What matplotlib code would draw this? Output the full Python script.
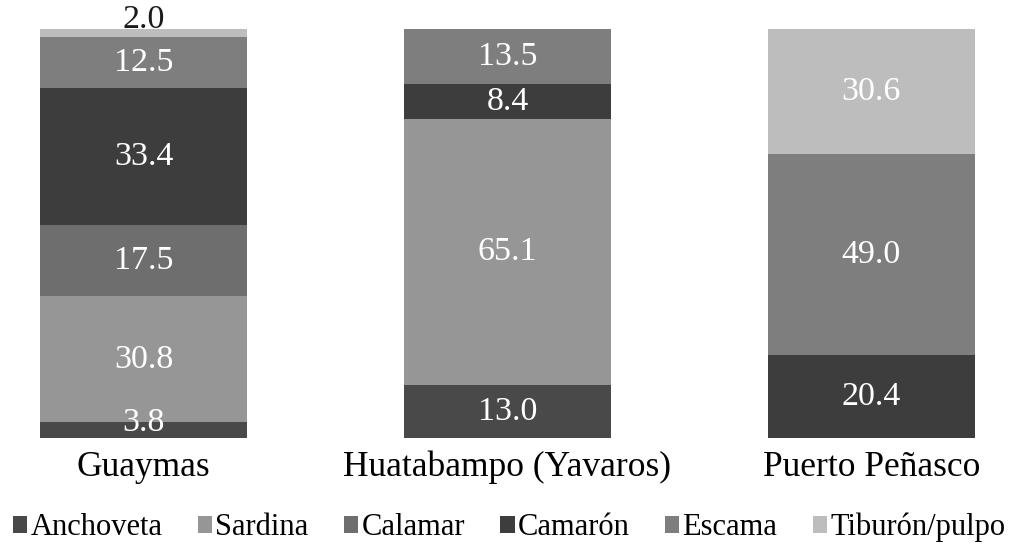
import matplotlib.pyplot as plt
from matplotlib.patches import Patch

plt.rcParams['font.family'] = ['Liberation Serif', 'DejaVu Serif']

# Stacked shares (%) per port, bottom to top
ports = ['Guaymas', 'Huatabampo (Yavaros)', 'Puerto Peñasco']
species = ['Anchoveta', 'Sardina', 'Calamar', 'Camarón', 'Escama', 'Tiburón/pulpo']
anchoveta = [3.8, 13.0, 0.0]
sardina = [30.8, 65.1, 0.0]
calamar = [17.5, 0.0, 0.0]
camaron = [33.4, 8.4, 20.4]
escama = [12.5, 13.5, 49.0]
tiburon = [2.0, 0.0, 30.6]

colors = ['#494949', '#969696', '#6e6e6e', '#3d3d3d', '#7e7e7e', '#bdbdbd']
series = [anchoveta, sardina, calamar, camaron, escama, tiburon]

fig = plt.figure(figsize=(10.12, 5.47), dpi=100)
ax = fig.add_axes([40 / 1012, 109 / 547, 935 / 1012, 409 / 547])

x = list(range(len(ports)))
width = 0.57
bottom = [0.0] * len(ports)
for vals, col in zip(series, colors):
    ax.bar(x, vals, width, bottom=bottom, color=col, edgecolor='none')
    for i, v in enumerate(vals):
        if v <= 0:
            continue
        y = bottom[i] + v / 2
        dy = 0
        tc = 'white'
        if v < 3:
            y = bottom[i] + v
            dy = 7
            tc = '#1a1a1a'
        elif v < 5:
            y = bottom[i] + v
            dy = 0
        ax.annotate(f'{v:.1f}', (i, y), xytext=(0, dy), textcoords='offset points',
                    ha='center', va='center', fontsize=24.5, color=tc)
    bottom = [b + v for b, v in zip(bottom, vals)]

ax.set_xlim(-width / 2, len(ports) - 1 + width / 2)
ax.set_ylim(0, 100)
ax.set_xticks(x)
ax.set_xticklabels(ports, fontsize=25.5)
ax.tick_params(axis='x', length=0, pad=9)
ax.set_yticks([])
for s in ax.spines.values():
    s.set_visible(False)

handles = [Patch(facecolor=c, edgecolor='none') for c in colors]
fig.legend(handles, species, loc='lower center', bbox_to_anchor=(0.503, -0.042),
           ncol=6, frameon=False, fontsize=22, handlelength=0.48, handleheight=0.48,
           handletextpad=0.1, columnspacing=1.15)

fig.savefig('out.png', dpi=100)
